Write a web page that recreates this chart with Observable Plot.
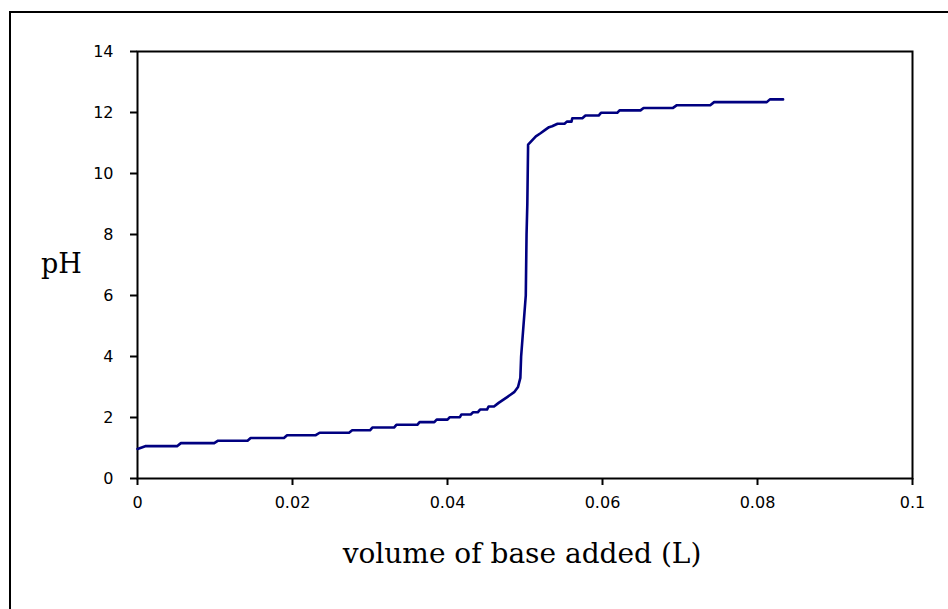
<!DOCTYPE html>
<html>
<head>
<meta charset="utf-8">
<script src="https://cdn.jsdelivr.net/npm/d3@7"></script>
<script src="https://cdn.jsdelivr.net/npm/@observablehq/plot@0.6"></script>
<style>
  html, body { margin: 0; padding: 0; background: #fff; overflow: hidden; }
  #wrap { position: relative; width: 948px; height: 609px; }
  #border { position: absolute; left: 9px; top: 11px; width: 2000px; height: 2000px; border: 2px solid #000; }
  #chart { position: absolute; left: 0; top: 0; }
</style>
</head>
<body>
<div id="wrap"><div id="border"></div><div id="chart"></div></div>
<script>
// Titration curve
const volume = [
  0, 0.0010, 0.0051, 0.0056, 0.0099, 0.0104, 0.0142, 0.0146, 0.0189, 0.0193,
  0.0230, 0.0235, 0.0273, 0.0277, 0.0300, 0.0303, 0.0331, 0.0334, 0.0361, 0.0364,
  0.0383, 0.0386, 0.0400, 0.0403, 0.0416, 0.0418, 0.0430, 0.0433, 0.0439, 0.0442,
  0.0451, 0.0453, 0.0460, 0.0466, 0.0477, 0.0486, 0.0491, 0.0494, 0.0495, 0.0501,
  0.0502, 0.0503, 0.0504, 0.0514, 0.0520, 0.0526, 0.0531, 0.0535, 0.0542, 0.0551,
  0.0554, 0.0560, 0.0561, 0.0574, 0.0578, 0.0595, 0.0598, 0.0619, 0.0622, 0.0649,
  0.0653, 0.0691, 0.0696, 0.0739, 0.0744, 0.0812, 0.0816, 0.0833
];
const pH = [
  0.97, 1.06, 1.06, 1.16, 1.16, 1.24, 1.24, 1.33, 1.33, 1.42,
  1.42, 1.50, 1.50, 1.58, 1.58, 1.67, 1.67, 1.76, 1.76, 1.85,
  1.85, 1.93, 1.93, 2.01, 2.01, 2.10, 2.10, 2.17, 2.17, 2.26,
  2.26, 2.36, 2.36, 2.48, 2.67, 2.83, 3.00, 3.30, 4.00, 6.00,
  8.00, 9.00, 10.95, 11.22, 11.32, 11.43, 11.52, 11.55, 11.63, 11.63,
  11.70, 11.70, 11.81, 11.81, 11.90, 11.90, 11.99, 11.99, 12.07, 12.07,
  12.15, 12.15, 12.24, 12.24, 12.34, 12.34, 12.43, 12.43
];
const xTicks = [0, 0.02, 0.04, 0.06, 0.08, 0.1];
const xTickLabels = ["0", "0.02", "0.04", "0.06", "0.08", "0.1"];
const yTicks = [0, 2, 4, 6, 8, 10, 12, 14];
const yTickLabels = ["0", "2", "4", "6", "8", "10", "12", "14"];
const xLabel = "volume of base added (L)";
const yLabel = "pH";

const data = volume.map((v, i) => ({v, p: pH[i]}));
const serif = "DejaVu Serif";
const sans = "DejaVu Sans";

const chart = Plot.plot({
  width: 948,
  height: 609,
  marginLeft: 137,
  marginRight: 36,
  marginTop: 51,
  marginBottom: 131,
  style: {fontFamily: sans, background: "transparent", color: "#000"},
  x: {domain: [0, 0.1]},
  y: {domain: [0, 14]},
  marks: [
    Plot.frame({stroke: "#000", strokeWidth: 2}),
    Plot.axisX({ticks: xTicks, tickSize: 7, strokeWidth: 2, label: null, tickFormat: () => ""}),
    Plot.axisY({ticks: yTicks, tickSize: 7, strokeWidth: 2, label: null, tickFormat: () => ""}),
    Plot.text(xTicks, {x: d => d, text: (d, i) => xTickLabels[i], frameAnchor: "bottom", dy: 29,
      fontSize: 16, fontFamily: sans, fill: "#000"}),
    Plot.text(yTicks, {y: d => d, text: (d, i) => yTickLabels[i], frameAnchor: "left", dx: -24,
      textAnchor: "end", fontSize: 16, fontFamily: sans, fill: "#000"}),
    Plot.line(data, {x: "v", y: "p", stroke: "#000080", strokeWidth: 2.6}),
    Plot.text([xLabel], {frameAnchor: "bottom", dx: -3, dy: 84, fontFamily: serif, fontSize: 28, fill: "#000"}),
    Plot.text([yLabel], {frameAnchor: "left", textAnchor: "middle", dx: -76, dy: -1, fontFamily: serif, fontSize: 27, fill: "#000"})
  ]
});
document.getElementById("chart").appendChild(chart);
</script>
</body>
</html>
